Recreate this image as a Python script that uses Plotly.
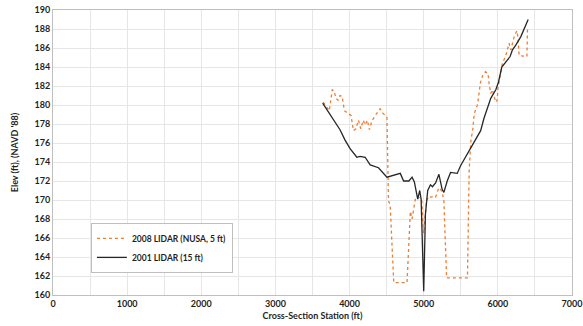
import plotly.graph_objects as go

# 2008 LIDAR (NUSA, 5 ft)
sta_2008 = [3644, 3726, 3767, 3790, 3817, 3845, 3871, 3900, 3930, 3984, 4020, 4052, 4085, 4120,
            4150, 4185, 4210, 4240, 4268, 4300, 4346, 4413, 4440, 4481, 4504, 4525, 4537, 4549,
            4596, 4775, 4797, 4820, 4843, 4865, 4887, 4919, 4955, 4975, 4992, 5000, 5010, 5037,
            5069, 5092, 5137, 5160, 5182, 5205, 5228, 5250, 5272, 5309, 5590, 5613, 5637, 5660,
            5682, 5728, 5763, 5795, 5832, 5855, 5868, 5881, 5904, 5926, 5949, 5972, 5990, 6003,
            6030, 6062, 6107, 6130, 6152, 6175, 6190, 6220, 6256, 6270, 6287, 6392, 6400]
elev_2008 = [180.3, 179.4, 181.6, 181.5, 180.7, 180.5, 181.0, 180.9, 179.4, 179.1, 178.9, 177.3, 177.5, 178.4,
             177.5, 178.4, 177.9, 178.4, 177.4, 178.3, 178.9, 179.6, 179.2, 178.9, 178.7, 169.9, 169.7, 169.2,
             161.3, 161.3, 165.0, 168.8, 168.0, 169.0, 170.1, 170.4, 170.1, 169.9, 167.1, 166.5, 167.5, 169.9,
             170.4, 170.3, 170.4, 170.3, 170.8, 171.3, 171.1, 170.8, 169.9, 161.8, 161.8, 173.1, 176.3, 177.3,
             179.1, 180.1, 182.3, 183.1, 183.5, 183.4, 183.3, 182.3, 181.2, 181.6, 180.8, 180.3, 180.5, 181.9,
             183.0, 184.4, 185.2, 185.8, 186.5, 185.8, 186.3, 187.2, 187.8, 187.2, 185.2, 185.1, 188.2]

# 2001 LIDAR (15 ft)
sta_2001 = [3637, 3827, 3871, 3939, 4007, 4098, 4140, 4210, 4278, 4390, 4504, 4684, 4729, 4800,
            4843, 4874, 4919, 4946, 4965, 5000, 5023, 5054, 5091, 5118, 5160, 5205, 5230, 5249,
            5272, 5317, 5362, 5452, 5497, 5633, 5768, 5813, 5904, 5972, 6008, 6053, 6107, 6165,
            6197, 6242, 6310, 6409]
elev_2001 = [180.2, 178.0, 177.4, 176.3, 175.4, 174.5, 174.6, 174.5, 173.7, 173.4, 172.4, 172.8, 172.0, 172.0,
             172.4, 171.9, 170.1, 171.0, 170.1, 160.4, 168.5, 171.0, 171.6, 171.4, 171.8, 172.7, 171.9, 171.1,
             170.8, 172.0, 172.9, 172.8, 173.6, 175.4, 177.3, 178.6, 180.7, 181.6, 182.4, 184.0, 184.5, 185.1,
             185.8, 186.3, 187.2, 189.0]

FONT = "Lato"
TXT = "#1f1f1f"
fig = go.Figure()
fig.add_trace(go.Scatter(x=sta_2008, y=elev_2008, mode="lines", name="<b>2008 LIDAR (NUSA, 5 ft)</b>",
                         line=dict(color="#ED7D31", width=1.3, dash="dot")))
fig.add_trace(go.Scatter(x=sta_2001, y=elev_2001, mode="lines", name="<b>2001 LIDAR (15 ft)</b>",
                         line=dict(color="#262626", width=1.3)))

axis_common = dict(showgrid=True, gridcolor="#e6e6e6", gridwidth=1, showline=True, linecolor="#bfbfbf",
                   linewidth=1, mirror=True, zeroline=False, ticks="", automargin=False,
                   tickfont=dict(family=FONT, size=9, color=TXT, weight="bold"))
fig.update_xaxes(range=[0, 7000], dtick=1000, tick0=0,
                 minor=dict(dtick=500, showgrid=True, gridcolor="#e6e6e6"),
                 title=dict(text="<b>Cross-Section Station (ft)</b>", font=dict(family=FONT, size=9, color=TXT),
                            standoff=4),
                 **axis_common)
fig.update_yaxes(range=[160, 190], dtick=2, tick0=160,
                 title=dict(text="<b>Elev (ft), (NAVD '88)</b>", font=dict(family=FONT, size=9, color=TXT),
                            standoff=14),
                 **axis_common)
fig.update_layout(
    width=583, height=326,
    margin=dict(l=53, r=11, t=10, b=31),
    plot_bgcolor="white", paper_bgcolor="white",
    showlegend=True,
    legend=dict(x=0.073, y=0.253, xanchor="left", yanchor="top", bgcolor="white",
                bordercolor="#bfbfbf", borderwidth=1,
                font=dict(family=FONT, size=8.5, color=TXT),
                itemwidth=30, tracegroupgap=0),
)
fig.write_html("out.html", config={"displayModeBar": False},
               post_script="document.body.style.margin='0';document.body.style.overflow='hidden';")
